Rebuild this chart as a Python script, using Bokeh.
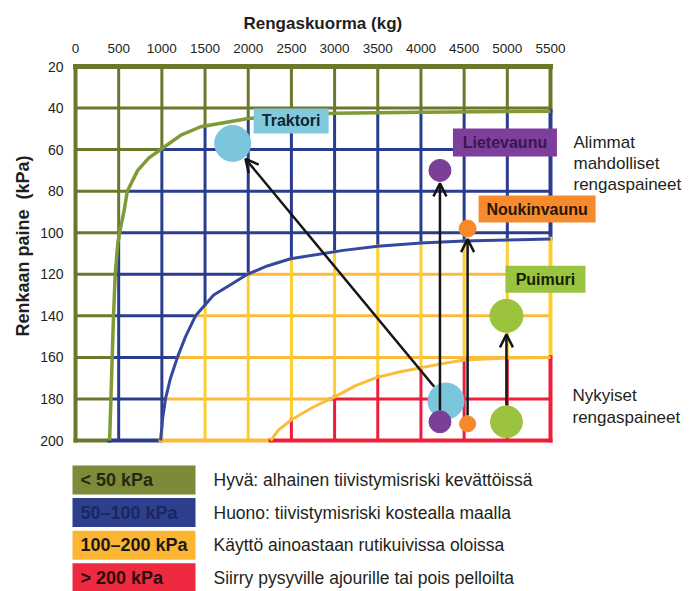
import numpy as np
from bokeh.plotting import figure
from bokeh.models import Range1d, FixedTicker, Title, Arrow, OpenHead, ColumnDataSource
from bokeh.core.properties import value
from bokeh.embed import file_html
from bokeh.resources import INLINE

# ---------------- data ----------------
load_ticks = [0, 500, 1000, 1500, 2000, 2500, 3000, 3500, 4000, 4500, 5000, 5500]
pressure_ticks = [20, 40, 60, 80, 100, 120, 140, 160, 180, 200]

# zone boundary curves (kg, kPa)
green_kg = [395, 410, 425, 440, 460, 490, 520, 560, 600, 720, 850, 1020, 1220, 1450, 2000, 2500, 3000, 4000, 5500]
green_kpa = [200, 180, 160, 140, 120, 105, 98, 90, 80, 70, 64, 59, 53, 49, 45, 43.5, 42.5, 42, 41.5]
blue_kg = [985, 1007, 1042, 1100, 1180, 1274, 1390, 1600, 1795, 1990, 2220, 2490, 3100, 3500, 4000, 4500, 5000, 5500]
blue_kpa = [200, 190, 180, 170, 160, 150, 140, 130, 125, 120, 116, 112.5, 108.5, 106.5, 105, 104, 103.5, 103]
red_kg = [2260, 2350, 2500, 2750, 3000, 3250, 3500, 3750, 4000, 4250, 4500, 5000, 5500]
red_kpa = [200, 195, 190, 184, 179, 173.5, 169.5, 167, 165, 163, 161.3, 160.3, 160]

vehicles = ["Traktori", "Lietevaunu", "Noukinvaunu", "Puimuri"]
load_now = [4290, 4220, 4540, 4990]
kpa_now = [181, 191, 192, 191]
load_min = [1820, 4220, 4540, 4990]
kpa_min = [57, 70, 98, 140]

zone_names = ["< 50 kPa", "50–100 kPa", "100–200 kPa", "> 200 kPa"]
zone_desc = ["Hyvä: alhainen tiivistymisriski kevättöissä",
             "Huono: tiivistymisriski kostealla maalla",
             "Käyttö ainoastaan rutikuivissa oloissa",
             "Siirry pysyville ajourille tai pois pelloilta"]
note_min = ["Alimmat", "mahdolliset", "rengaspaineet"]
note_now = ["Nykyiset", "rengaspaineet"]
x_title = "Rengaskuorma (kg)"
y_title = "Renkaan paine\u00a0 (kPa)"

# ---------------- styles / layout ----------------
FONT = "Liberation Sans"
TXT = "#231f20"
W, H = 695, 591
FL, FT = 68, 61          # frame left / top in page pixels
PX_KG = 475 / 5500      # px per kg
PX_KPA = 374 / 180      # px per kPa


def kg_at(px):
    return (px - 75) / PX_KG


def kpa_at(py):
    return 20 + (py - 66) / PX_KPA


H_COLORS = ["#6b782c", "#2a3c8e", "#fbba3c", "#ed1e3a"]
V_COLORS = ["#6b782c", "#2a3c8e", "#fdcf2e", "#ed1e3a"]
LEGEND_COLORS = ["#7d8a3a", "#2e3f8e", "#fbb533", "#ef2a40"]
LEGEND_TXT = ["#26280f", "#1c2660", "#1a1a1a", "#2a0a0a"]
VEH_COLORS = ["#7cc6dd", "#7c3f97", "#f5892b", "#9bc33d"]
SIZE_NOW = [36, 22, 16, 32]
SIZE_MIN = [36, 22, 17, 33]
LBL_OFF = [(58.5, -22.5), (65, -28), (69.5, -19.5), (39, -36.5)]
LBL_BOX = [(75, 25), (104, 28), (117, 27), (80, 27)]
LBL_FILL = ["#82c9dd", "#7e3f9a", "#f68a2d", "#9ac33f"]
LBL_TXT = ["#0f2530", "#3a1650", "#2b1608", "#16210a"]

p = figure(width=W, height=H,
           x_range=Range1d(kg_at(FL), kg_at(W)),
           y_range=Range1d(kpa_at(H), kpa_at(FT)),
           x_axis_location="above", output_backend="svg", toolbar_location=None,
           min_border_left=FL, min_border_right=0, min_border_top=FT, min_border_bottom=0)
p.outline_line_color = None
p.xgrid.visible = False
p.ygrid.visible = False
p.background_fill_color = "white"

for ax in (p.xaxis[0], p.yaxis[0]):
    ax.axis_line_color = None
    ax.major_tick_line_color = None
    ax.minor_tick_line_color = None
    ax.major_tick_out = 0
    ax.major_tick_in = 0
    ax.minor_tick_out = 0
    ax.minor_tick_in = 0
    ax.major_label_text_font = FONT
    ax.major_label_text_color = TXT
p.xaxis.major_label_standoff = 9
p.yaxis.major_label_standoff = 5
p.xaxis.ticker = FixedTicker(ticks=load_ticks)
p.yaxis.ticker = FixedTicker(ticks=pressure_ticks)
p.xaxis.major_label_text_font_size = "13.5px"
p.yaxis.major_label_text_font_size = "14px"

# axis titles
p.title.text = x_title
p.title.align = "left"
p.title.offset = 243 - FL
p.title.standoff = 16
p.title.text_font = FONT
p.title.text_font_size = "17px"
p.title.text_font_style = "bold"
p.title.text_color = TXT

p.add_layout(Title(text=y_title, align="right", offset=155 - FT, text_font=FONT,
                   text_font_size="18px", text_font_style="bold", text_color=TXT), "left")


# ---------------- zone-coloured grid ----------------
def boundary(x, cx, cy):
    return np.interp(x, cx, cy, left=np.inf, right=cy[-1])


def zone_of(x, y):
    g = boundary(x, green_kg, green_kpa)
    b = boundary(x, blue_kg, blue_kpa)
    r = boundary(x, red_kg, red_kpa)
    return np.where(y < g, 0, np.where(y < b, 1, np.where(y < r, 2, 3)))


def split_line(t, z):
    cuts, cols, cur = [t[0]], [], z[0]
    for i in range(1, len(t)):
        if z[i] != cur:
            cuts.append(0.5 * (t[i - 1] + t[i]))
            cols.append(cur)
            cur = z[i]
    cuts.append(t[-1])
    cols.append(cur)
    return [(cuts[k], cuts[k + 1], cols[k]) for k in range(len(cols))]


inner = dict(x0=[], y0=[], x1=[], y1=[], c=[], w=[])
outer = dict(x0=[], y0=[], x1=[], y1=[], c=[], w=[])
xmin, xmax = load_ticks[0], load_ticks[-1]
ymin, ymax = pressure_ticks[0], pressure_ticks[-1]
t_h = np.linspace(xmin, xmax, 5501)
t_v = np.linspace(ymin, ymax, 1801)
for yk in pressure_ticks:
    border = yk in (ymin, ymax)
    d = outer if border else inner
    for a, b, c in split_line(t_h, zone_of(t_h, np.full_like(t_h, yk))):
        d["x0"].append(a); d["x1"].append(b); d["y0"].append(yk); d["y1"].append(yk)
        d["c"].append(H_COLORS[c]); d["w"].append(5 if yk == ymin else (4 if border else 3))
for xk in load_ticks:
    border = xk in (xmin, xmax)
    d = outer if border else inner
    for a, b, c in split_line(t_v, zone_of(np.full_like(t_v, xk), t_v)):
        d["x0"].append(xk); d["x1"].append(xk); d["y0"].append(a); d["y1"].append(b)
        d["c"].append(V_COLORS[c]); d["w"].append(4 if border else 3)

for d in (inner, outer):
    p.segment(x0="x0", y0="y0", x1="x1", y1="y1", line_color="c", line_width="w",
              line_cap="square", source=ColumnDataSource(d))

# boundary curves
p.line(green_kg, green_kpa, line_color="#7e9b36", line_width=3.5, line_join="round")
p.line(blue_kg, blue_kpa, line_color="#33489e", line_width=3, line_join="round")
p.line(red_kg, red_kpa, line_color="#fbbd3c", line_width=3, line_join="round")

# ---------------- vehicles ----------------
p.scatter(load_min, kpa_min, size=SIZE_MIN, color=VEH_COLORS, marker="circle")
p.scatter(load_now, kpa_now, size=SIZE_NOW, color=VEH_COLORS, marker="circle")

arr = dict(xs=[], ys=[], xe=[], ye=[])
for i in range(len(vehicles)):
    x0, y0, x1, y1 = load_now[i], kpa_now[i], load_min[i], kpa_min[i]
    vx, vy = (x1 - x0) * PX_KG, (y1 - y0) * PX_KPA
    L = np.hypot(vx, vy)
    ux, uy = vx / L, vy / L
    s_px, e_px = SIZE_NOW[i] / 2 + 0.5, SIZE_MIN[i] / 2 + 2
    arr["xs"].append(x0 + ux * s_px / PX_KG)
    arr["ys"].append(y0 + uy * s_px / PX_KPA)
    arr["xe"].append(x1 - ux * e_px / PX_KG)
    arr["ye"].append(y1 - uy * e_px / PX_KPA)
p.add_layout(Arrow(end=OpenHead(size=13, line_width=2.5, line_color="#151515"),
                   x_start="xs", y_start="ys", x_end="xe", y_end="ye",
                   line_width=2.5, line_color="#151515", source=ColumnDataSource(arr)))

lx = [load_min[i] + LBL_OFF[i][0] / PX_KG for i in range(4)]
ly = [kpa_min[i] + LBL_OFF[i][1] / PX_KPA for i in range(4)]
p.rect(lx, ly, width=[b[0] for b in LBL_BOX], height=[b[1] for b in LBL_BOX],
       width_units="screen", height_units="screen", fill_color=LBL_FILL, line_color=None)
p.text(lx, ly, text=vehicles, text_align="center", text_baseline="middle",
       text_font=value(FONT), text_font_style="bold", text_font_size="16px", text_color=LBL_TXT)

# side notes
p.text([kg_at(573)] * 3, [kpa_at(142 + 21 * i) for i in range(3)], text=note_min,
       text_align="left", text_baseline="alphabetic", text_font=value(FONT),
       text_font_size="17px", text_color=TXT)
p.text([kg_at(572)] * 2, [kpa_at(395 + 22 * i) for i in range(2)], text=note_now,
       text_align="left", text_baseline="alphabetic", text_font=value(FONT),
       text_font_size="17px", text_color=TXT)

# ---------------- legend ----------------
rows_y = [kpa_at(479.5 + 32.6 * i) for i in range(4)]
p.rect([kg_at(133.5)] * 4, rows_y, width=123, height=29, width_units="screen",
       height_units="screen", fill_color=LEGEND_COLORS, line_color=None)
p.text([kg_at(80)] * 4, rows_y, text=zone_names, text_align="left", text_baseline="middle",
       text_font=value(FONT), text_font_style="bold", text_font_size="18px", text_color=LEGEND_TXT)
p.text([kg_at(213)] * 4, rows_y, text=zone_desc, text_align="left", text_baseline="middle",
       text_font=value(FONT), text_font_size="17.5px", text_color=TXT)

open("out.html", "w").write(file_html(p, INLINE))
